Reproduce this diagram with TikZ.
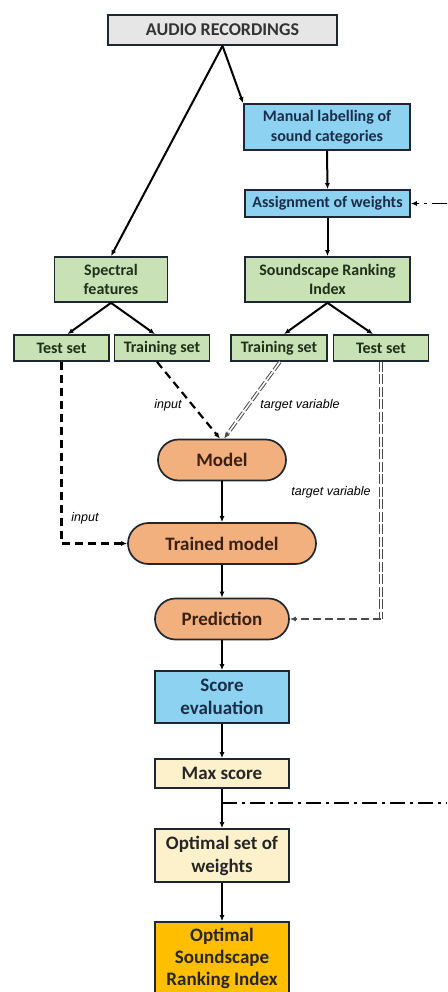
\documentclass[tikz,border=0pt]{standalone}
\usepackage{fontspec}
\setmainfont{Carlito}
\newfontfamily\lblfont{Liberation Sans}
\usetikzlibrary{arrows.meta,calc}

\definecolor{edgedark}{HTML}{1E2630}
\definecolor{fillgray}{HTML}{E6E6E6}
\definecolor{fillblue}{HTML}{8ED2F2}
\definecolor{fillgreen}{HTML}{C8E2B6}
\definecolor{fillorange}{HTML}{F3B07F}
\definecolor{fillcream}{HTML}{FDF1CC}
\definecolor{fillgold}{HTML}{FFBF00}
\definecolor{txtblue}{HTML}{1A2E4A}
\definecolor{txtgreen}{HTML}{203018}
\definecolor{txtbrown}{HTML}{3A2012}
\definecolor{linegray}{HTML}{4A4A4A}

\tikzset{
  box/.style={draw=edgedark, line width=1.7pt, inner sep=1pt, align=center,
    font=\bfseries\fontsize{16}{19.5}\selectfont},
  graybox/.style={box, fill=fillgray, text=black!80, font=\bfseries\fontsize{18}{20}\selectfont},
  bluebox/.style={box, fill=fillblue, text=txtblue},
  greenbox/.style={box, fill=fillgreen, text=txtgreen},
  pill/.style={box, fill=fillorange, text=txtbrown, rounded corners=20.5pt,
    font=\bfseries\fontsize{19}{23}\selectfont},
  lowbox/.style={box, text=black!85, font=\bfseries\fontsize{19}{23}\selectfont},
  lowtext/.style={align=center, inner sep=0pt, text=black!85, font=\bfseries\fontsize{19}{22}\selectfont},
  tip/.style={-{Latex[length=6pt,width=5pt]}},
  flow/.style={tip, line width=2pt, draw=black},
  blackdash/.style={tip, line width=2.2pt, draw=black, dash pattern=on 8pt off 5pt},
  graydash/.style={tip, line width=1.5pt, draw=linegray, dash pattern=on 8pt off 4pt},
  dbl/.style={draw=linegray, double=white, double distance=1.6pt, line width=1pt,
    dash pattern=on 10pt off 2.5pt},
  dashdot/.style={line width=1.8pt, draw=black, dash pattern=on 15pt off 5pt on 3pt off 5pt},
  lbl/.style={font=\lblfont\itshape\fontsize{12.5}{14}\selectfont, inner sep=0pt}
}

\begin{document}
\begin{tikzpicture}[x=1pt, y=-1pt]
\useasboundingbox (0,0) rectangle (447,992);
\clip (0,0) rectangle (447,992);

% upper part: recordings, labelling and data split
\node[graybox, minimum width=229pt, minimum height=30pt] (audio) at (222.5,30) {AUDIO RECORDINGS};
\node[bluebox, minimum width=166pt, minimum height=46pt] (manual) at (327,127) {Manual labelling of\\sound categories};
\node[bluebox, minimum width=165pt, minimum height=27pt] (assign) at (327.5,203.5) {Assignment of weights};
\node[greenbox, minimum width=113pt, minimum height=45pt] (spectral) at (111,279.5) {Spectral\\features};
\node[greenbox, minimum width=165pt, minimum height=45pt] (sri) at (327.5,279.5) {Soundscape Ranking\\Index};
\node[greenbox, minimum width=95pt, minimum height=26pt] (testL) at (61.5,348) {Test set};
\node[greenbox, minimum width=95pt, minimum height=26pt] (trainL) at (162,348) {Training set};
\node[greenbox, minimum width=96pt, minimum height=26pt] (trainR) at (279,348) {Training set};
\node[greenbox, minimum width=95pt, minimum height=26pt] (testR) at (381,348) {Test set};

% model chain
\node[pill, minimum width=128pt, minimum height=41pt] (model) at (222,460) {Model};
\node[pill, minimum width=188pt, minimum height=41pt] (trained) at (222,543.5) {Trained model};
\node[pill, minimum width=134pt, minimum height=41pt] (pred) at (222,619) {Prediction};
\node[lowbox, fill=fillblue, text=txtblue, minimum width=134pt, minimum height=52pt] (score) at (222,697) {Score\\evaluation};
\node[lowbox, fill=fillcream, minimum width=134pt, minimum height=29pt] (maxs) at (222,773.5) {Max score};
\node[lowbox, fill=fillcream, minimum width=134pt, minimum height=53pt] (optw) at (222,855.5) {Optimal set of\\weights};
% final box runs past the lower edge; its text sits in the visible part
\node[lowbox, fill=fillgold, minimum width=134pt, minimum height=80pt] (osri) at (222,962) {};
\node[lowtext] (osritext) at (222,958) {Optimal\\Soundscape\\Ranking Index};

% edge labels
\node[lbl] (lin1) at (168,405) {input};
\node[lbl] (ltv1) at (300,405) {target variable};
\node[lbl] (ltv2) at (331,492) {target variable};
\node[lbl] (lin2) at (85,518) {input};

% solid flow
\draw[flow] (audio.south) -- (spectral.north);
\draw[flow] (audio.south) -- (manual.north west);
\draw[flow] (manual.south) -- (assign.north);
\draw[flow] (assign.south) -- (sri.north);
\draw[flow] (spectral.south) -- ([xshift=6pt]testL.north);
\draw[flow] (spectral.south) -- ([xshift=-7pt]trainL.north);
\draw[flow] (sri.south) -- ([xshift=5pt]trainR.north);
\draw[flow] (sri.south) -- ([xshift=-8pt]testR.north);
\draw[flow] (model.south) -- (trained.north);
\draw[flow] (trained.south) -- (pred.north);
\draw[flow] (pred.south) -- (score.north);
\draw[flow] (score.south) -- (maxs.north);
\draw[flow] (maxs.south) -- (optw.north);
\draw[flow] (optw.south) -- (osri.north);

% inputs into the model
\draw[blackdash] ([xshift=-5pt]trainL.south) -- ([xshift=-2pt]model.north);
\draw[blackdash] (testL.south) |- (trained.west);

% target variable links
\coordinate (mtop) at ([xshift=2pt]model.north);
\coordinate (trbot) at ([xshift=1pt]trainR.south);
\coordinate (mtip) at ($(mtop)!7pt!(trbot)$);
\draw[dbl, shorten >=6pt] (trbot) -- (mtop);
\draw[tip, draw=linegray, line width=1.3pt] (mtip) -- (mtop);
\coordinate (tcorner) at (testR.south |- pred.east);
\draw[dbl] (testR.south) -- (tcorner);
\draw[graydash] (tcorner) -- (pred.east);

% feedback from the best score to the weights
\coordinate (fbstart) at (222,803);
\coordinate (fbout) at (447,803);
\coordinate (fbin) at (447,203.5);
\draw[dashdot] (fbstart) -- (fbout);
\draw[dashdot, tip] (fbin) -- (assign.east);
\end{tikzpicture}
\end{document}
